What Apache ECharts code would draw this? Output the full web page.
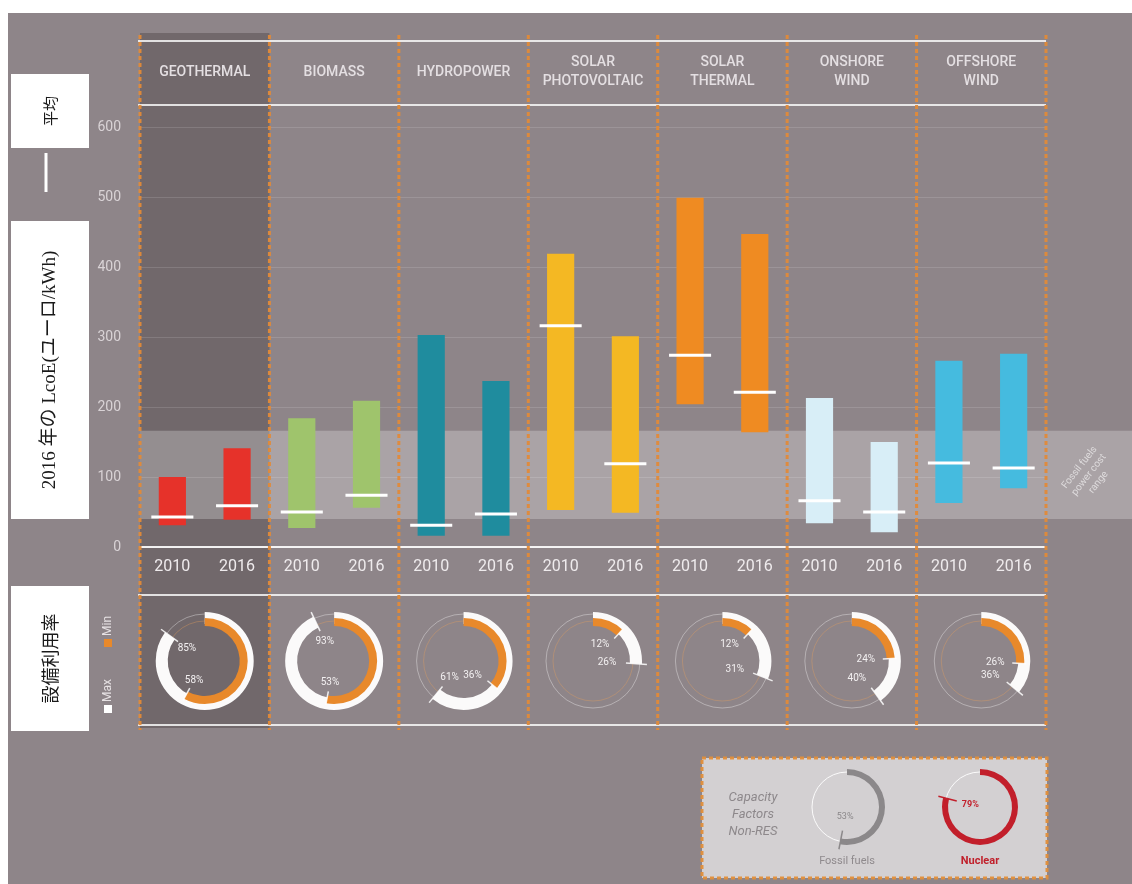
<!DOCTYPE html>
<html>
<head>
<meta charset="utf-8">
<script src="https://cdn.jsdelivr.net/npm/echarts@6/dist/echarts.min.js"></script>
<style>
  html, body { margin: 0; padding: 0; background: #ffffff; }
  #chart { width: 1132px; height: 884px; }
</style>
</head>
<body>
<div id="chart"></div>
<script>
// ---- data -------------------------------------------------------------
const technologies = ['GEOTHERMAL', 'BIOMASS', 'HYDROPOWER', 'SOLAR\nPHOTOVOLTAIC', 'SOLAR\nTHERMAL', 'ONSHORE\nWIND', 'OFFSHORE\nWIND'];
const years = ['2010', '2016'];
const techColors = ['#e6322a', '#9fc46c', '#1f8c9e', '#f4b823', '#ef8b22', '#d8eef7', '#45bbdf'];

// LCOE range per technology, [2010, 2016]
const lcoeMin = [[31, 39], [27, 56], [16, 16], [53, 49], [204, 164], [34, 21], [63, 84]];
const lcoeMax = [[100, 141], [184, 209], [303, 237], [419, 301], [499, 447], [213, 150], [266, 276]];
const lcoeAvg = [[43, 59], [50, 74], [31, 47], [316, 119], [274, 221], [66, 50], [120, 113]];

// fossil fuel power cost range
const fossilRange = [40, 166];
const fossilLabel = 'Fossil fuels\npower cost\nrange';

// capacity factors (%)
const capacityMax = [85, 93, 61, 26, 31, 40, 36];
const capacityMin = [58, 53, 36, 12, 12, 24, 26];

// non-renewable reference capacity factors (%)
const nonResNames = ['Fossil fuels', 'Nuclear'];
const nonResCapacity = [53, 79];
const nonResColors = ['#8b888a', '#c21f2b'];

const yMin = 0, yMax = 600, yStep = 100;

// ---- layout -----------------------------------------------------------
const W = 1132, H = 884;
const BG = '#8e8589';
const GRID = { left: 140, right: 1046, top: 127, bottom: 547 };
const COL_W = (GRID.right - GRID.left) / technologies.length;
const colCenter = t => GRID.left + COL_W * (t + 0.5);
const DONUT_Y = 661;
const ORANGE = '#e8892b';
const FONT = 'Roboto, "DejaVu Sans", sans-serif';
const JP_SANS = '"Noto Sans CJK JP", sans-serif';
const JP_SERIF = '"Liberation Serif", "DejaVu Serif", "Noto Sans CJK JP", serif';

const yearCategories = technologies.flatMap(() => years);

const barData = [];
technologies.forEach((_, t) => {
  years.forEach((_, k) => {
    barData.push([t * years.length + k, lcoeMin[t][k], lcoeMax[t][k], lcoeAvg[t][k], t]);
  });
});

function arcPoint(cx, cy, r, pct) {
  const a = pct / 100 * Math.PI * 2;
  return [cx + r * Math.sin(a), cy - r * Math.cos(a)];
}

// ---- decorations ------------------------------------------------------
const g = [];
g.push({ type: 'rect', z: -10, shape: { x: 8, y: 13, width: W - 8, height: H - 13 }, style: { fill: BG } });
g.push({ type: 'rect', z: -9, shape: { x: GRID.left, y: 33, width: COL_W, height: 728 - 33 }, style: { fill: '#71686b' } });

// horizontal rules of the header and the capacity row
[41, 105, 595, 725].forEach(y => {
  g.push({ type: 'line', z: 5, shape: { x1: GRID.left - 2, y1: y, x2: GRID.right, y2: y },
    style: { stroke: 'rgba(255,255,255,0.8)', lineWidth: 2 } });
});
// dashed column separators
for (let i = 0; i <= technologies.length; i++) {
  const x = GRID.left + i * COL_W;
  g.push({ type: 'line', z: 6, shape: { x1: x, y1: 35, x2: x, y2: 730 },
    style: { stroke: 'rgba(226,138,56,0.95)', lineWidth: 3, lineDash: [4, 3] } });
}

// left-hand captions
const boxes = [
  { y: 74, h: 74, text: '平均', font: '15px ' + JP_SANS },
  { y: 221, h: 298, text: '2016 年の LcoE(ユーロ/kWh)', font: '19px ' + JP_SERIF },
  { y: 586, h: 145, text: '設備利用率', font: '18px ' + JP_SANS }
];
boxes.forEach(b => {
  g.push({ type: 'rect', z: 8, shape: { x: 11, y: b.y, width: 78, height: b.h }, style: { fill: '#ffffff' } });
  g.push({ type: 'text', z: 9, x: 50, y: b.y + b.h / 2, rotation: Math.PI / 2,
    style: { text: b.text, font: b.font, fill: '#1a1a1a', align: 'center', verticalAlign: 'middle' } });
});
// average marker key
g.push({ type: 'line', z: 8, shape: { x1: 46, y1: 153, x2: 46, y2: 192 }, style: { stroke: '#ffffff', lineWidth: 3 } });

// Max / Min key (vertical)
g.push({ type: 'group', z: 8, x: 108, y: 667, rotation: Math.PI / 2, children: [
  { type: 'rect', shape: { x: -46, y: -4, width: 8, height: 8 }, style: { fill: '#ffffff' } },
  { type: 'text', x: -35, y: 0, style: { text: 'Max', font: '12px ' + FONT, fill: '#e6e1e3', align: 'left', verticalAlign: 'middle' } },
  { type: 'rect', shape: { x: 20, y: -4, width: 8, height: 8 }, style: { fill: ORANGE } },
  { type: 'text', x: 31, y: 0, style: { text: 'Min', font: '12px ' + FONT, fill: '#e6e1e3', align: 'left', verticalAlign: 'middle' } }
] });

// capacity factor rings: tracks, end ticks and labels
technologies.forEach((_, t) => {
  const cx = colCenter(t), cy = DONUT_Y;
  g.push({ type: 'circle', z: 1, shape: { cx, cy, r: 47 }, style: { fill: 'none', stroke: 'rgba(255,255,255,0.35)', lineWidth: 1 } });
  g.push({ type: 'circle', z: 1, shape: { cx, cy, r: 40 }, style: { fill: 'none', stroke: 'rgba(235,160,90,0.35)', lineWidth: 1 } });
  [[capacityMax[t], 33, 54], [capacityMin[t], 31, 45]].forEach(([v, r1, r2]) => {
    const a = arcPoint(cx, cy, r1, v), b = arcPoint(cx, cy, r2, v);
    g.push({ type: 'line', z: 10, shape: { x1: a[0], y1: a[1], x2: b[0], y2: b[1] },
      style: { stroke: 'rgba(255,255,255,0.85)', lineWidth: 1.5 } });
    // labels sit inside the ring next to the arc end
    const p = arcPoint(cx, cy, 22, v);
    const dx = v < 50 ? -8 : 0;
    g.push({ type: 'text', z: 10, x: p[0] + dx, y: p[1],
      style: { text: v + '%', font: '10px ' + FONT, fill: '#f3f0f1', align: 'center', verticalAlign: 'middle' } });
  });
});

// non-renewable reference box
g.push({ type: 'rect', z: 2, shape: { x: 702, y: 758, width: 345, height: 120 },
  style: { fill: '#d3d0d2', stroke: 'rgba(226,142,58,0.95)', lineWidth: 3, lineDash: [4, 3] } });
g.push({ type: 'text', z: 3, x: 753, y: 815,
  style: { text: 'Capacity\nFactors\nNon-RES', font: 'italic 13px ' + FONT, fill: '#8d888b', align: 'center', verticalAlign: 'middle', lineHeight: 17 } });
const nonResCenters = [[847, 807], [980, 807]];
nonResNames.forEach((name, i) => {
  const [cx, cy] = nonResCenters[i];
  g.push({ type: 'circle', z: 3, shape: { cx, cy, r: 35 }, style: { fill: 'none', stroke: 'rgba(255,255,255,0.9)', lineWidth: 1 } });
  const v = nonResCapacity[i];
  const a = arcPoint(cx, cy, 24, v), b = arcPoint(cx, cy, 43, v);
  g.push({ type: 'line', z: 6, shape: { x1: a[0], y1: a[1], x2: b[0], y2: b[1] }, style: { stroke: nonResColors[i], lineWidth: 1.5 } });
  const p = arcPoint(cx, cy, 10, v);
  g.push({ type: 'text', z: 6, x: p[0], y: p[1],
    style: { text: v + '%', font: (i ? 'bold ' : '') + '9px ' + FONT, fill: nonResColors[i], align: 'center', verticalAlign: 'middle' } });
  g.push({ type: 'text', z: 6, x: cx, y: 861,
    style: { text: name, font: (i ? 'bold ' : '') + '11px ' + FONT, fill: i ? '#c0202b' : '#8f8a8d', align: 'center', verticalAlign: 'middle' } });
});

// ---- series -----------------------------------------------------------
const series = [];

// fossil fuel cost band, running past the plot to the right edge
series.push({
  type: 'custom', z: 1, clip: false, silent: true,
  data: [[0, fossilRange[0], fossilRange[1]]],
  encode: { x: 0, y: [1, 2] },
  renderItem(params, api) {
    const cs = params.coordSys;
    const yLo = api.coord([0, api.value(1)])[1];
    const yHi = api.coord([0, api.value(2)])[1];
    const xr = api.getWidth();
    return { type: 'group', children: [
      { type: 'rect', shape: { x: cs.x, y: yHi, width: xr - cs.x, height: yLo - yHi }, style: { fill: 'rgba(255,255,255,0.25)' } },
      { type: 'text', x: (cs.x + cs.width + xr) / 2, y: (yLo + yHi) / 2, rotation: 52 * Math.PI / 180,
        style: { text: fossilLabel, font: '10px ' + FONT, fill: 'rgba(255,255,255,0.6)', align: 'center', verticalAlign: 'middle', lineHeight: 12 } }
    ] };
  }
});

// LCOE range bars with average markers
series.push({
  type: 'custom', z: 3, silent: true,
  data: barData,
  encode: { x: 0, y: [1, 2, 3] },
  renderItem(params, api) {
    const x = api.value(0);
    const lo = api.coord([x, api.value(1)]);
    const hi = api.coord([x, api.value(2)]);
    const av = api.coord([x, api.value(3)]);
    const band = api.size([1, 0])[0];
    const bw = band * 0.42, lw = band * 0.65;
    return { type: 'group', children: [
      { type: 'rect', shape: { x: lo[0] - bw / 2, y: hi[1], width: bw, height: lo[1] - hi[1] },
        style: { fill: techColors[api.value(4)] } },
      { type: 'line', shape: { x1: av[0] - lw / 2, y1: av[1], x2: av[0] + lw / 2, y2: av[1] },
        style: { stroke: '#ffffff', lineWidth: 3 } }
    ] };
  }
});

// capacity factor rings
function ring(center, radius, value, color, z) {
  return {
    type: 'pie', z, silent: true, animation: false,
    center, radius, startAngle: 90, clockwise: true,
    label: { show: false }, labelLine: { show: false },
    emphasis: { disabled: true },
    itemStyle: { borderWidth: 0 },
    data: [
      { value, itemStyle: { color } },
      { value: 100 - value, itemStyle: { color: 'rgba(0,0,0,0)' } }
    ]
  };
}
technologies.forEach((_, t) => {
  const c = [colCenter(t), DONUT_Y];
  series.push(ring(c, [37, 49], capacityMax[t], '#fbfafa', 4));
  series.push(ring(c, [35, 43], capacityMin[t], ORANGE, 5));
});
nonResNames.forEach((_, i) => {
  series.push(ring(nonResCenters[i], [32, 38], nonResCapacity[i], nonResColors[i], 5));
});

// ---- chart ------------------------------------------------------------
const option = {
  backgroundColor: '#ffffff',
  animation: false,
  textStyle: { fontFamily: FONT },
  grid: { left: GRID.left, top: GRID.top, width: GRID.right - GRID.left, height: GRID.bottom - GRID.top,
    containLabel: false, outerBoundsMode: 'none' },
  xAxis: [
    { type: 'category', data: yearCategories, position: 'bottom',
      axisLine: { lineStyle: { color: 'rgba(255,255,255,0.9)', width: 2 } },
      axisTick: { show: false }, splitLine: { show: false },
      axisLabel: { color: '#efebed', fontSize: 16, margin: 12, interval: 0 } },
    { type: 'category', data: technologies, position: 'top',
      axisLine: { show: false }, axisTick: { show: false }, splitLine: { show: false },
      axisLabel: { color: '#e4dfe2', fontSize: 14, fontWeight: 500, margin: 55, interval: 0,
        verticalAlign: 'middle', lineHeight: 19, align: 'center' } }
  ],
  yAxis: {
    type: 'value', min: yMin, max: yMax, interval: yStep,
    axisLine: { show: false }, axisTick: { show: false },
    axisLabel: { color: '#d9d3d6', fontSize: 14, margin: 19 },
    splitLine: { lineStyle: { color: 'rgba(255,255,255,0.13)', width: 1 } }
  },
  graphic: { elements: g },
  series
};

const chart = echarts.init(document.getElementById('chart'), null, { renderer: 'canvas' });
chart.setOption(option);
</script>
</body>
</html>
